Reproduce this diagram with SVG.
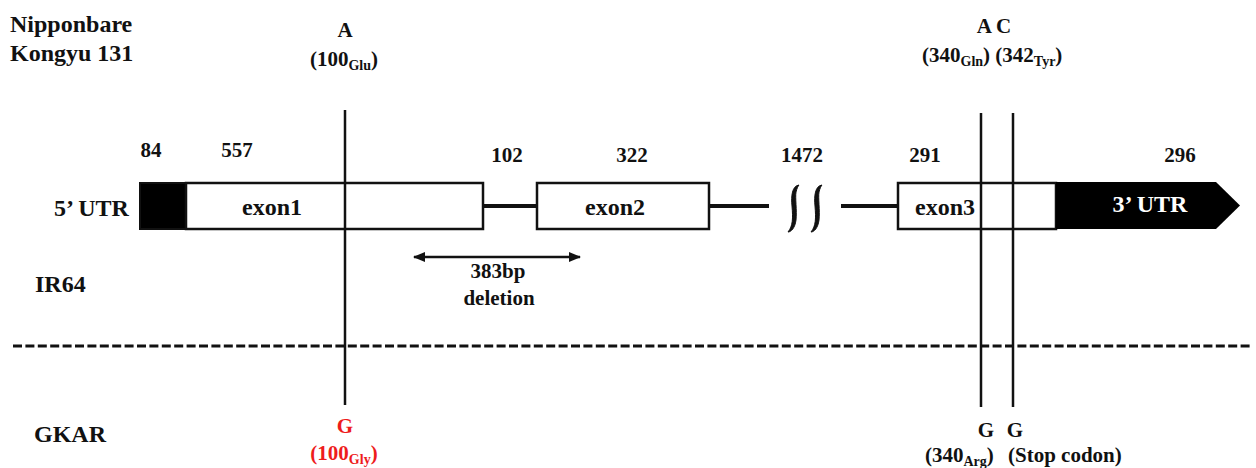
<svg xmlns="http://www.w3.org/2000/svg" width="1256" height="468" viewBox="0 0 1256 468">
<defs>
<style>
text{font-family:"Liberation Serif","Times New Roman",serif;font-weight:bold;fill:#111}
.lb{font-size:24px}
.nm{font-size:21px}
.sb{font-size:14px}
.red{fill:#ee1c1c}
.box{fill:#fff;stroke:#111;stroke-width:2.5}
.blk{fill:#000;stroke:#111;stroke-width:2}
.ln{stroke:#111;stroke-width:4;fill:none}
.vl{stroke:#111;stroke-width:2.5;fill:none}
.sq{fill:#111;stroke:#111;stroke-width:1;stroke-linejoin:round}
</style>
<marker id="ah" viewBox="0 0 12 10" refX="11" refY="5" markerWidth="12" markerHeight="10" markerUnits="userSpaceOnUse" orient="auto-start-reverse">
<path d="M0,0 L12,5 L0,10 Z" fill="#111"/>
</marker>
</defs>

<g id="labels">
<text class="lb" x="10" y="32">Nipponbare</text>
<text class="lb" x="10" y="61">Kongyu 131</text>
<text class="lb" x="54" y="216">5’ UTR</text>
<text class="lb" x="35" y="292">IR64</text>
<text class="lb" x="34" y="442">GKAR</text>
</g>

<g id="sizes">
<text class="nm" x="151" y="157" text-anchor="middle">84</text>
<text class="nm" x="237" y="157" text-anchor="middle">557</text>
<text class="nm" x="507" y="162" text-anchor="middle">102</text>
<text class="nm" x="632" y="162" text-anchor="middle">322</text>
<text class="nm" x="802" y="162" text-anchor="middle">1472</text>
<text class="nm" x="925" y="162" text-anchor="middle">291</text>
<text class="nm" x="1180" y="162" text-anchor="middle">296</text>
</g>

<g id="connectors">
<line class="ln" x1="483" y1="206" x2="537" y2="206"/>
<line class="ln" x1="709" y1="206" x2="769" y2="206"/>
<line class="ln" x1="841" y1="206" x2="898" y2="206"/>
<path class="sq" d="M799,185 C792,186 791,196 792,206 C793,218 793,226 788,232 C791,232 795,228 796,220 C797,210 795,198 796,192 C797,188 798,186 799,185 Z"/>
<path class="sq" d="M822,185 C815,186 814,196 815,206 C816,218 816,226 811,232 C814,232 818,228 819,220 C820,210 818,198 819,192 C820,188 821,186 822,185 Z"/>
<line x1="13" y1="346" x2="1253" y2="346" stroke="#111" stroke-width="3" stroke-dasharray="9,3.4"/>
<line x1="414" y1="257" x2="580" y2="257" stroke="#111" stroke-width="2.5" marker-start="url(#ah)" marker-end="url(#ah)"/>
</g>

<g id="utr5">
<rect class="blk" x="140" y="183" width="46" height="46"/>
</g>
<g id="exon1">
<rect class="box" x="186" y="183" width="297" height="46"/>
<text class="lb" x="272" y="215" text-anchor="middle">exon1</text>
</g>
<g id="exon2">
<rect class="box" x="537" y="183" width="172" height="46"/>
<text class="lb" x="615" y="215" text-anchor="middle">exon2</text>
</g>
<g id="exon3">
<rect class="box" x="898" y="183" width="158" height="46"/>
<text class="lb" x="945" y="215" text-anchor="middle">exon3</text>
</g>
<g id="utr3">
<path d="M1056,182 L1216,182 L1240,205.5 L1216,229 L1056,229 Z" fill="#000"/>
<text class="lb" x="1150" y="212" text-anchor="middle" style="fill:#fff">3’ UTR</text>
</g>

<g id="snp-lines">
<line class="vl" x1="345" y1="110" x2="345" y2="405"/>
<line class="vl" x1="981" y1="113" x2="981" y2="407"/>
<line class="vl" x1="1013" y1="113" x2="1013" y2="407"/>
</g>

<g id="deletion">
<text class="nm" x="498" y="278" text-anchor="middle">383bp</text>
<text class="nm" x="499" y="305" text-anchor="middle">deletion</text>
</g>

<g id="snp100-ref">
<text class="nm" x="345" y="37" text-anchor="middle">A</text>
<text class="nm" x="344" y="66" text-anchor="middle">(100<tspan class="sb" dy="4">Glu</tspan><tspan dy="-4">)</tspan></text>
</g>
<g id="snp340-ref">
<text class="nm" x="994" y="33" text-anchor="middle">A C</text>
<text class="nm" x="922" y="62">(340<tspan class="sb" dy="4">Gln</tspan><tspan dy="-4">) (342</tspan><tspan class="sb" dy="4">Tyr</tspan><tspan dy="-4">)</tspan></text>
</g>
<g id="snp100-gkar">
<text class="nm red" x="345" y="433" text-anchor="middle">G</text>
<text class="nm red" x="344" y="460" text-anchor="middle">(100<tspan class="sb" dy="4">Gly</tspan><tspan dy="-4">)</tspan></text>
</g>
<g id="snp340-gkar">
<text class="nm" x="986" y="437" text-anchor="middle">G</text>
<text class="nm" x="1015" y="437" text-anchor="middle">G</text>
<text class="nm" x="925" y="462">(340<tspan class="sb" dy="4">Arg</tspan><tspan dy="-4">)</tspan></text>
<text class="nm" x="1008" y="462">(Stop codon)</text>
</g>
</svg>
